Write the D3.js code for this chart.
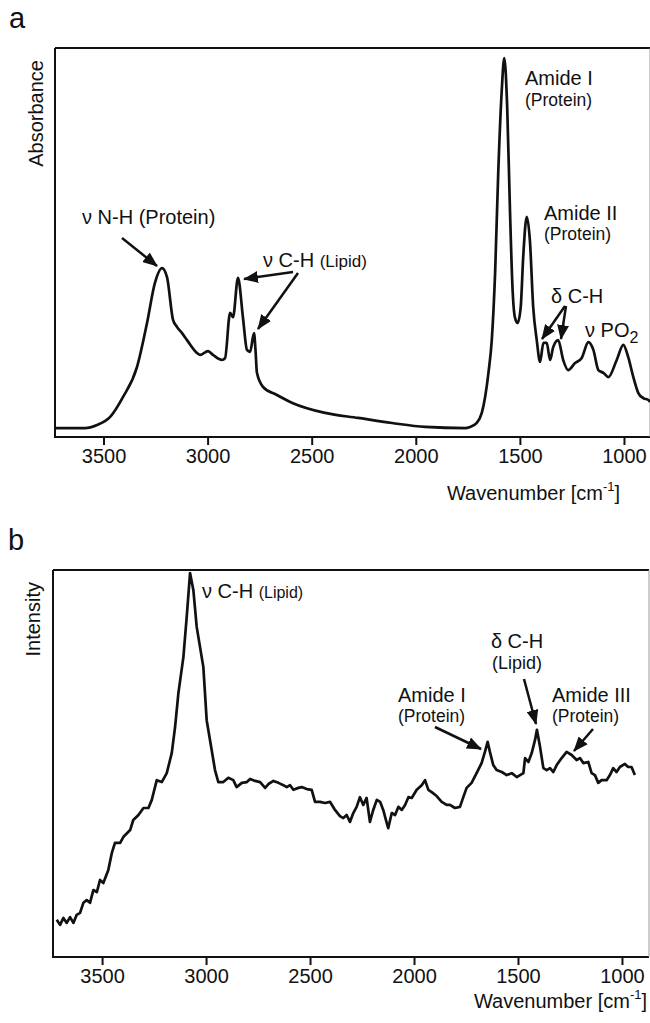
<!DOCTYPE html>
<html>
<head>
<meta charset="utf-8">
<script src="https://cdn.jsdelivr.net/npm/d3@7"></script>
<style>
  body { margin: 0; background: #fff; }
  svg text { font-family: "Liberation Sans", Arial, Helvetica, sans-serif; fill: #111; }
</style>
</head>
<body>
<div id="chart"></div>
<script>
// Tick values shared by both panels (wavenumber, cm-1)
const tickValues = [3500, 3000, 2500, 2000, 1500, 1000];

// Panel a: FTIR absorbance spectrum (arbitrary units)
const waveA = [3733, 3589, 3531, 3469, 3406, 3339, 3291, 3253, 3219, 3195, 3166, 3147, 3123, 3099, 3051, 3036,
  2998, 2974, 2931, 2916, 2892, 2878, 2854, 2830, 2811, 2796, 2777, 2770, 2763, 2734, 2667, 2590, 2436, 2277,
  2114, 1955, 1763, 1739, 1707, 1683, 1667, 1651, 1635, 1619, 1604, 1587, 1575, 1561, 1548, 1535, 1524, 1511,
  1496, 1484, 1467, 1452, 1436, 1419, 1403, 1387, 1371, 1355, 1340, 1316, 1292, 1268, 1235, 1203, 1171, 1147,
  1123, 1099, 1075, 1035, 1003, 980, 955, 931, 907, 883, 875];
const absA = [0.023, 0.023, 0.031, 0.051, 0.103, 0.180, 0.293, 0.396, 0.434, 0.411, 0.301, 0.283, 0.267, 0.249, 0.216, 0.211,
  0.221, 0.211, 0.198, 0.203, 0.319, 0.308, 0.409, 0.306, 0.224, 0.219, 0.267, 0.224, 0.165, 0.129, 0.108, 0.087, 0.062, 0.049,
  0.036, 0.026, 0.023, 0.026, 0.036, 0.062, 0.103, 0.165, 0.249, 0.422, 0.679, 0.892, 0.974, 0.848, 0.591, 0.378, 0.308, 0.293,
  0.334, 0.463, 0.566, 0.506, 0.334, 0.249, 0.193, 0.242, 0.242, 0.198, 0.231, 0.249, 0.198, 0.172, 0.190, 0.203, 0.244, 0.224,
  0.172, 0.165, 0.154, 0.198, 0.237, 0.206, 0.154, 0.113, 0.100, 0.095, 0.090];

// Panel b: Raman intensity spectrum (arbitrary units)
const waveB = [3718, 3702, 3686, 3670, 3654, 3638, 3622, 3606, 3590, 3574, 3558, 3542, 3525, 3510, 3494, 3470,
  3453, 3438, 3413, 3398, 3365, 3350, 3325, 3301, 3277, 3261, 3237, 3213, 3189, 3165, 3149, 3133, 3109, 3093,
  3077, 3061, 3045, 3013, 2997, 2973, 2957, 2941, 2917, 2893, 2869, 2853, 2828, 2804, 2788, 2764, 2740, 2716,
  2700, 2676, 2652, 2628, 2612, 2596, 2580, 2556, 2540, 2516, 2492, 2476, 2452, 2428, 2404, 2380, 2356, 2340,
  2324, 2308, 2292, 2276, 2260, 2244, 2228, 2212, 2196, 2179, 2163, 2148, 2131, 2124, 2107, 2091, 2075, 2059,
  2043, 2027, 2011, 1987, 1963, 1947, 1931, 1915, 1891, 1867, 1843, 1827, 1803, 1779, 1763, 1747, 1723, 1699,
  1675, 1659, 1646, 1635, 1619, 1603, 1578, 1554, 1530, 1506, 1490, 1474, 1466, 1450, 1434, 1418, 1409, 1394,
  1378, 1362, 1346, 1330, 1314, 1290, 1266, 1242, 1218, 1202, 1186, 1162, 1146, 1130, 1114, 1098, 1074, 1058,
  1042, 1026, 1010, 986, 970, 954, 938];
const intB = [0.096, 0.083, 0.101, 0.088, 0.103, 0.088, 0.109, 0.114, 0.140, 0.147, 0.140, 0.173, 0.168, 0.199, 0.191, 0.225,
  0.269, 0.295, 0.295, 0.310, 0.328, 0.354, 0.367, 0.385, 0.385, 0.406, 0.457, 0.452, 0.475, 0.527, 0.594, 0.682, 0.775, 0.879,
  0.992, 0.948, 0.853, 0.749, 0.612, 0.535, 0.483, 0.452, 0.452, 0.463, 0.457, 0.439, 0.450, 0.452, 0.460, 0.455, 0.452, 0.437,
  0.447, 0.455, 0.450, 0.444, 0.439, 0.444, 0.432, 0.437, 0.439, 0.434, 0.432, 0.401, 0.401, 0.398, 0.401, 0.380, 0.364, 0.359,
  0.367, 0.349, 0.372, 0.388, 0.413, 0.393, 0.411, 0.349, 0.380, 0.406, 0.401, 0.380, 0.346, 0.333, 0.372, 0.367, 0.388, 0.380,
  0.393, 0.413, 0.411, 0.432, 0.444, 0.457, 0.432, 0.426, 0.416, 0.401, 0.393, 0.393, 0.385, 0.388, 0.413, 0.437, 0.450, 0.475,
  0.501, 0.530, 0.556, 0.530, 0.496, 0.483, 0.478, 0.470, 0.475, 0.465, 0.470, 0.475, 0.514, 0.504, 0.527, 0.561, 0.587, 0.543,
  0.488, 0.483, 0.488, 0.478, 0.496, 0.514, 0.530, 0.522, 0.509, 0.514, 0.501, 0.504, 0.475, 0.470, 0.450, 0.457, 0.457, 0.470,
  0.488, 0.478, 0.491, 0.499, 0.491, 0.491, 0.470];

const W = 650, H = 1023;
const svg = d3.select("#chart").append("svg")
  .attr("width", W)
  .attr("height", H);

// arrow head
svg.append("defs").append("marker")
  .attr("id", "head")
  .attr("viewBox", "0 0 15 12")
  .attr("refX", 14)
  .attr("refY", 6)
  .attr("markerWidth", 15)
  .attr("markerHeight", 12)
  .attr("markerUnits", "userSpaceOnUse")
  .attr("orient", "auto")
  .append("path")
  .attr("d", "M0,0L15,6L0,12Z")
  .attr("fill", "#111");

// draws one framed panel and its spectrum
function drawPanel(box, xDomain, waves, values, curve) {
  const w = box.right - box.left, h = box.bottom - box.top;
  const x = d3.scaleLinear().domain(xDomain).range([0, w]);
  const y = d3.scaleLinear().domain([0, 1]).range([h, 0]);
  const g = svg.append("g").attr("transform", `translate(${box.left},${box.top})`);

  const axis = g.append("g")
    .attr("transform", `translate(0,${h})`)
    .call(d3.axisBottom(x).tickValues(tickValues).tickFormat(d3.format("d"))
      .tickSize(8).tickSizeOuter(0).tickPadding(4));
  axis.select(".domain").remove();
  axis.selectAll(".tick line").attr("stroke", "#111").attr("stroke-width", 2);
  axis.selectAll(".tick text").attr("font-size", 20).attr("fill", "#111")
    .attr("font-family", "'Liberation Sans', Arial, sans-serif");

  // frame
  g.append("path")
    .attr("d", `M0,0H${w}M0,0V${h}H${w}`)
    .attr("fill", "none")
    .attr("stroke", "#111")
    .attr("stroke-width", 2);
  g.append("line")
    .attr("x1", w).attr("x2", w).attr("y1", 0).attr("y2", h)
    .attr("stroke", "#999").attr("stroke-width", 1);

  const line = d3.line()
    .x(i => x(waves[i]))
    .y(i => y(values[i]))
    .curve(curve);
  g.append("path")
    .datum(d3.range(waves.length))
    .attr("d", line)
    .attr("fill", "none")
    .attr("stroke", "#111")
    .attr("stroke-width", 2.7)
    .attr("stroke-linejoin", "round");
}

drawPanel({ left: 55, top: 48, right: 650, bottom: 437 }, [3733, 875], waveA, absA, d3.curveMonotoneX);
drawPanel({ left: 53, top: 570, right: 649, bottom: 957 }, [3736, 870], waveB, intB, d3.curveLinear);

// text helper: parts = [[text, size, dy]]
function label(x, y, parts, anchor) {
  const t = svg.append("text").attr("x", x).attr("y", y).attr("text-anchor", anchor || "start");
  parts.forEach(p => {
    const s = t.append("tspan").text(p[0]).attr("font-size", p[1]);
    if (p[2]) s.attr("dy", p[2]);
  });
  return t;
}

function arrow(x1, y1, x2, y2) {
  svg.append("line")
    .attr("x1", x1).attr("y1", y1).attr("x2", x2).attr("y2", y2)
    .attr("stroke", "#111").attr("stroke-width", 2.5)
    .attr("marker-end", "url(#head)");
}

// panel a
label(9, 28, [["a", 29]]);
svg.append("text").attr("transform", "translate(43,60) rotate(-90)")
  .attr("text-anchor", "end").attr("font-size", 20).text("Absorbance");
label(82, 224, [["ν N-H (Protein)", 20]]);
label(263, 267, [["ν C-H ", 20], ["(Lipid)", 17]]);
label(525, 85, [["Amide I", 20]]);
label(525, 106, [["(Protein)", 17.5]]);
label(544, 220, [["Amide II", 20]]);
label(544, 240, [["(Protein)", 17.5]]);
label(551, 303, [["δ C-H", 20]]);
label(585, 337, [["ν PO", 20], ["2", 16, 6]]);
label(620, 500, [["Wavenumber [cm", 20], ["-1", 13, -9], ["]", 20, 9]], "end");
arrow(122, 238, 157, 266);
arrow(293, 272, 244, 279);
arrow(298, 273, 258, 329);
arrow(565, 306, 542, 339);
arrow(566, 306, 561, 339);

// panel b
label(8, 550, [["b", 29]]);
svg.append("text").attr("transform", "translate(40,582) rotate(-90)")
  .attr("text-anchor", "end").attr("font-size", 20).text("Intensity");
label(202, 598, [["ν C-H ", 20], ["(Lipid)", 16]]);
label(517, 648, [["δ C-H", 20]], "middle");
label(517, 669, [["(Lipid)", 18]], "middle");
label(398, 702, [["Amide I", 20]]);
label(398, 722, [["(Protein)", 17.5]]);
label(552, 702, [["Amide III", 20]]);
label(552, 722, [["(Protein)", 17.5]]);
label(647, 1008, [["Wavenumber [cm", 20], ["-1", 13, -9], ["]", 20, 9]], "end");
arrow(435, 727, 481, 749);
arrow(524, 679, 536, 724);
arrow(593, 729, 574, 751);
</script>
</body>
</html>
